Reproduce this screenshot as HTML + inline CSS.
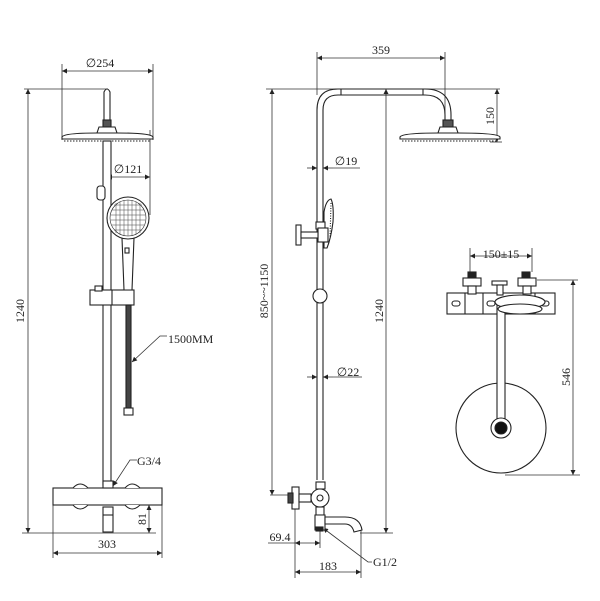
<!DOCTYPE html>
<html><head><meta charset="utf-8"><style>
html,body{margin:0;padding:0;background:#fff;}
svg{display:block}
text{font-family:"Liberation Serif",serif;font-size:12px;fill:#222}
</style></head><body>
<svg width="600" height="601" viewBox="0 0 600 601" xmlns="http://www.w3.org/2000/svg">
<defs>
<marker id="a" viewBox="0 0 10 10" refX="10" refY="5" markerWidth="7" markerHeight="5" orient="auto-start-reverse" markerUnits="userSpaceOnUse"><path d="M0,0L10,5L0,10z" fill="#222"/></marker>
</defs>
<g stroke="#333" stroke-width="0.8" fill="none">
<line x1="62" y1="64" x2="62" y2="140"/><line x1="153" y1="64" x2="153" y2="140"/>
<line x1="62" y1="71" x2="153" y2="71" marker-start="url(#a)" marker-end="url(#a)"/>
<line x1="24" y1="89" x2="108" y2="89"/>
<line x1="22" y1="533" x2="156" y2="533"/>
<line x1="28" y1="89" x2="28" y2="533" marker-start="url(#a)" marker-end="url(#a)"/>
<line x1="107" y1="177" x2="150" y2="177" marker-start="url(#a)" marker-end="url(#a)"/>
<line x1="150" y1="130" x2="150" y2="215"/>
<line x1="149" y1="505" x2="149" y2="533" marker-start="url(#a)" marker-end="url(#a)"/>
<line x1="53" y1="505" x2="53" y2="558"/><line x1="162" y1="505" x2="162" y2="558"/>
<line x1="53" y1="553" x2="162" y2="553" marker-start="url(#a)" marker-end="url(#a)"/>
<polyline points="132,362 160,336 167,336" marker-start="url(#a)"/>
<polyline points="113,486 130,460 137,460" marker-start="url(#a)"/>
</g>
<g stroke="#222" stroke-width="1.1" fill="#fff">
<path d="M104,120 L104,92 Q107,86 110,92 L110,120"/>
<rect x="103" y="120" width="8" height="7" fill="#555"/>
<path d="M99,127 L115,127 L117,133 L97,133 Z"/>
<path d="M62,137 Q64,133 97,133 L117,133 Q151,133 153,137 L153,139 L62,139 Z"/>
<line x1="64" y1="141" x2="151" y2="141" stroke-dasharray="1.5,1.5"/>
<rect x="103" y="141" width="8" height="344"/>
<rect x="97" y="186" width="8" height="14" rx="3"/>
<rect x="90" y="290" width="44" height="15"/>
<line x1="112" y1="290" x2="112" y2="305"/>
<rect x="95" y="286" width="7" height="5"/>
<path d="M122,238 L134,238 L132,290 L124,290 Z"/>
<rect x="125" y="248" width="4" height="5"/>
<circle cx="128" cy="218" r="21"/>
<circle cx="128" cy="218" r="18" stroke-width="0.6"/>
</g>
<g stroke="#444" stroke-width="0.5">
<line x1="114" y1="205" x2="142" y2="205"/><line x1="112" y1="210" x2="144" y2="210"/><line x1="111" y1="215" x2="145" y2="215"/><line x1="111" y1="220" x2="145" y2="220"/><line x1="112" y1="225" x2="144" y2="225"/><line x1="114" y1="230" x2="142" y2="230"/>
<line x1="116" y1="203" x2="116" y2="233"/><line x1="120" y1="201" x2="120" y2="235"/><line x1="124" y1="200" x2="124" y2="236"/><line x1="128" y1="200" x2="128" y2="236"/><line x1="132" y1="200" x2="132" y2="236"/><line x1="136" y1="201" x2="136" y2="235"/><line x1="140" y1="203" x2="140" y2="233"/>
</g>
<g stroke="#222" stroke-width="1.1" fill="#fff">
<rect x="126" y="305" width="5" height="105" fill="#444"/>
<rect x="124" y="408" width="9" height="7"/>
<rect x="53" y="488" width="109" height="17"/>
<path d="M73,488 Q80,480 88,488 M73,505 Q80,513 88,505"/>
<path d="M125,488 Q132,480 140,488 M125,505 Q132,513 140,505"/>
<rect x="103" y="481" width="10" height="7"/>
<rect x="103" y="507" width="10" height="25"/>
<line x1="103" y1="515" x2="113" y2="515"/>
</g>

<g stroke="#333" stroke-width="0.8" fill="none">
<line x1="317" y1="52" x2="317" y2="95"/><line x1="445" y1="52" x2="445" y2="125"/>
<line x1="317" y1="58" x2="445" y2="58" marker-start="url(#a)" marker-end="url(#a)"/>
<line x1="266" y1="89" x2="500" y2="89"/>
<line x1="272" y1="89" x2="272" y2="495" marker-start="url(#a)" marker-end="url(#a)"/>
<line x1="270" y1="495" x2="300" y2="495"/>
<line x1="386" y1="89" x2="386" y2="533" marker-start="url(#a)" marker-end="url(#a)"/>
<line x1="360" y1="533" x2="393" y2="533"/>
<line x1="497" y1="89" x2="497" y2="142" marker-start="url(#a)" marker-end="url(#a)"/>
<line x1="490" y1="142" x2="502" y2="142"/>
<line x1="307" y1="168" x2="317" y2="168" marker-end="url(#a)"/><line x1="333" y1="168" x2="323" y2="168" marker-end="url(#a)"/><line x1="333" y1="168" x2="360" y2="168"/>
<line x1="307" y1="377" x2="317" y2="377" marker-end="url(#a)"/><line x1="333" y1="377" x2="323" y2="377" marker-end="url(#a)"/><line x1="333" y1="377" x2="362" y2="377"/>
<line x1="295" y1="505" x2="295" y2="578"/><line x1="320" y1="525" x2="320" y2="548"/><line x1="361" y1="530" x2="361" y2="578"/>
<line x1="268" y1="543" x2="295" y2="543"/>
<line x1="295" y1="543" x2="320" y2="543" marker-start="url(#a)" marker-end="url(#a)"/>
<line x1="295" y1="572" x2="361" y2="572" marker-start="url(#a)" marker-end="url(#a)"/>
<polyline points="323,528 368,562 372,562" marker-start="url(#a)"/>
</g>
<g stroke="#222" stroke-width="1.1" fill="#fff">
<path d="M317,480 L317,110 Q317,89 338,89 L425,89 Q451,89 451,115 L451,120 L445,120 L445,115 Q445,95 425,95 L338,95 Q323,95 323,110 L323,480" fill="none"/>
<line x1="341" y1="89" x2="341" y2="95"/><line x1="423" y1="89" x2="423" y2="95"/>
<rect x="443" y="120" width="10" height="7" fill="#555"/>
<path d="M440,127 L456,127 L458,133 L438,133 Z"/>
<path d="M400,137 Q402,133 438,133 L458,133 Q498,133 500,137 L500,139 L400,139 Z"/>
<line x1="402" y1="141" x2="498" y2="141" stroke-dasharray="1.5,1.5"/>
<path d="M324,212 Q326,200 331,199 Q334,205 333,222 Q331,238 327,248 L324,248 Z"/>
<line x1="331" y1="203" x2="330" y2="238" stroke-dasharray="1,1.5"/>
<rect x="316" y="222" width="9" height="7"/>
<rect x="318" y="228" width="10" height="14"/>
<rect x="296" y="225" width="5" height="20"/>
<rect x="301" y="232" width="17" height="6"/>
<circle cx="320" cy="296" r="7"/>
<rect x="316" y="482" width="9" height="7"/>
<circle cx="320" cy="498" r="9"/>
<circle cx="320" cy="498" r="3"/>
<rect x="292" y="487" width="7" height="22"/>
<rect x="288" y="493" width="5" height="10" fill="#444"/>
<rect x="299" y="494" width="12" height="8"/>
<rect x="316" y="507" width="8" height="8"/>
<path d="M315,515 L325,515 L325,530 L315,530 Z"/>
<rect x="316" y="527" width="7" height="4" fill="#222"/>
<path d="M325,517 L345,517 Q360,517 362,530 L354,532 Q352,524 345,524 L325,524 Z"/>
</g>

<g stroke="#333" stroke-width="0.8" fill="none">
<line x1="470" y1="248" x2="470" y2="272"/><line x1="532" y1="248" x2="532" y2="272"/>
<line x1="470" y1="256" x2="532" y2="256" marker-start="url(#a)" marker-end="url(#a)"/>
<line x1="537" y1="280" x2="578" y2="280"/>
<line x1="573" y1="280" x2="573" y2="475" marker-start="url(#a)" marker-end="url(#a)"/>
<line x1="505" y1="475" x2="580" y2="475"/>
</g>
<g stroke="#222" stroke-width="1.1" fill="#fff">
<rect x="447" y="293" width="108" height="21"/>
<line x1="465" y1="293" x2="465" y2="314"/><line x1="483" y1="293" x2="483" y2="314"/><line x1="535" y1="293" x2="535" y2="314"/>
<rect x="452" y="301" width="8" height="5" rx="2.5"/><rect x="487" y="301" width="8" height="5" rx="2.5"/><rect x="541" y="301" width="8" height="5" rx="2.5"/>
<rect x="468" y="272" width="8" height="6" fill="#222"/>
<rect x="522" y="272" width="8" height="6" fill="#222"/>
<rect x="463" y="278" width="18" height="8"/>
<rect x="518" y="278" width="18" height="8"/>
<rect x="468" y="286" width="8" height="8"/>
<rect x="523" y="286" width="8" height="8"/>
<rect x="492" y="281" width="15" height="4"/>
<rect x="497" y="285" width="6" height="10"/>
<circle cx="501" cy="428" r="45"/>
<rect x="497" y="300" width="8" height="125"/>
<ellipse cx="520" cy="302" rx="25" ry="7"/>
<ellipse cx="520" cy="309" rx="22" ry="5"/>
<circle cx="501" cy="428" r="10"/>
<circle cx="501" cy="428" r="6" fill="#111"/>
</g>

<text x="100" y="67" text-anchor="middle">∅254</text>
<text x="128" y="173" text-anchor="middle">∅121</text>
<text x="168" y="343">1500MM</text>
<text x="137" y="465">G3/4</text>
<text x="107" y="548" text-anchor="middle">303</text>
<text transform="translate(24,311) rotate(-90)" text-anchor="middle">1240</text>
<text transform="translate(146,519) rotate(-90)" text-anchor="middle">81</text>
<text x="381" y="54" text-anchor="middle">359</text>
<text x="346" y="165" text-anchor="middle">∅19</text>
<text x="348" y="376" text-anchor="middle">∅22</text>
<text transform="translate(268,291) rotate(-90)" text-anchor="middle">850~~1150</text>
<text transform="translate(383,311) rotate(-90)" text-anchor="middle">1240</text>
<text transform="translate(494,116) rotate(-90)" text-anchor="middle">150</text>
<text x="280" y="541" text-anchor="middle">69.4</text>
<text x="328" y="570" text-anchor="middle">183</text>
<text x="373" y="566">G1/2</text>
<text x="501" y="258" text-anchor="middle">150±15</text>
<text transform="translate(570,377) rotate(-90)" text-anchor="middle">546</text>
</svg>
</body></html>
